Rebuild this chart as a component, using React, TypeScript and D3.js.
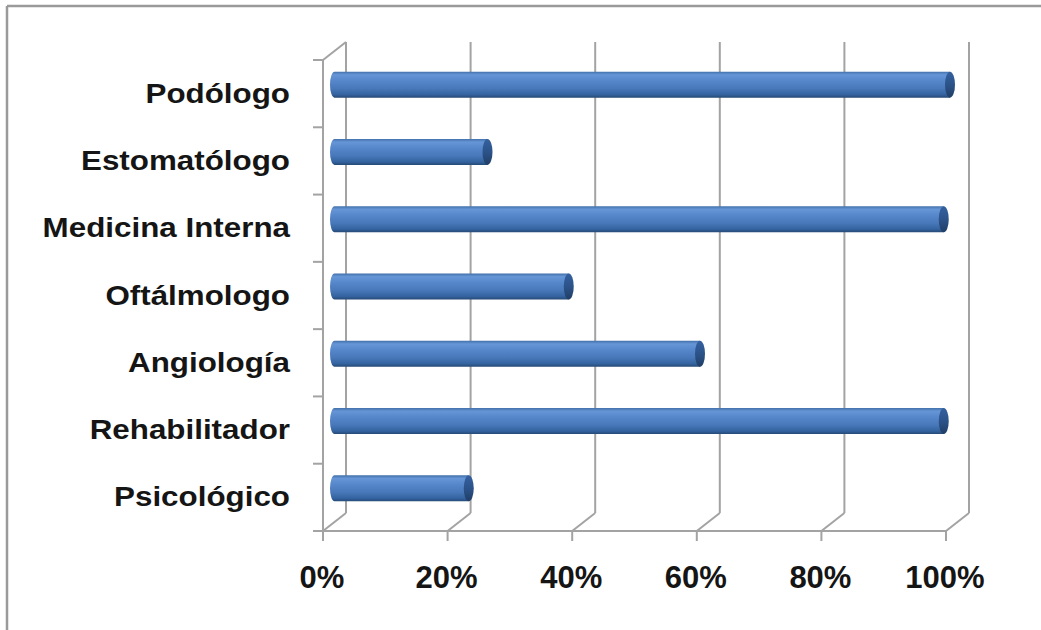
import React from "react";
import * as d3 from "d3";

const categories = [
  "Podólogo",
  "Estomatólogo",
  "Medicina Interna",
  "Oftálmologo",
  "Angiología",
  "Rehabilitador",
  "Psicológico",
];
const values = [100, 26, 99, 39, 60, 99, 23];
const tickValues = [0, 20, 40, 60, 80, 100];
const tickLabels = ["0%", "20%", "40%", "60%", "80%", "100%"];

const W = 1041;
const H = 630;
const depth = { dx: 23, dy: -18 };
const gridColor = "#a3a3a3";

export default function App() {
  const xFront = d3.scaleLinear().domain([0, 100]).range([323, 946]);
  const yFront = d3.scaleBand().domain(categories).range([60, 531]);
  const xBar = d3.scaleLinear().domain([0, 100]).range([325, 950]);
  const bw = yFront.bandwidth();
  const barH = 26;
  const rx = 4.5;
  const ry = barH / 2;
  const y0 = yFront.range()[0];
  const y1 = yFront.range()[1];
  const bounds = [y0, ...categories.map((c) => (yFront(c) as number) + bw)];
  const barStart = xFront(0) + depth.dx / 2;

  return (
    <svg
      width={W}
      height={H}
      style={{ position: "absolute", left: 0, top: 0, background: "#fff" }}
    >
      <defs>
        <linearGradient id="barGrad" x1="0" y1="0" x2="0" y2="1">
          <stop offset="0" stopColor="#4270ab" />
          <stop offset="0.12" stopColor="#6696d6" />
          <stop offset="0.35" stopColor="#5687cb" />
          <stop offset="0.65" stopColor="#4878b9" />
          <stop offset="0.88" stopColor="#3463a0" />
          <stop offset="1" stopColor="#264a75" />
        </linearGradient>
        <linearGradient id="capGrad" x1="0" y1="0" x2="0" y2="1">
          <stop offset="0" stopColor="#3561a0" />
          <stop offset="0.5" stopColor="#2c5389" />
          <stop offset="1" stopColor="#203e66" />
        </linearGradient>
      </defs>
      <rect x={0} y={0} width={W} height={H} fill="#fff" />
      {/* outer border */}
      <line x1={7} y1={6} x2={W} y2={6} stroke="#9a9a9a" strokeWidth={2.5} />
      <line x1={7} y1={6} x2={7} y2={H} stroke="#9a9a9a" strokeWidth={2.5} />

      {/* back wall gridlines + floor diagonals + ticks */}
      {tickValues.map((v) => {
        const xf = xFront(v);
        const xb = xf + depth.dx;
        return (
          <g key={"g" + v} stroke={gridColor} strokeWidth={2} fill="none">
            {v > 0 && <line x1={xb} y1={y0 + depth.dy} x2={xb} y2={y1 + depth.dy} />}
            <line x1={xf} y1={y1} x2={xb} y2={y1 + depth.dy} />
            <line x1={xf} y1={y1} x2={xf} y2={y1 + 10} />
          </g>
        );
      })}
      {/* left wall */}
      <g stroke={gridColor} strokeWidth={2} fill="none">
        <line x1={xFront(0)} y1={y0} x2={xFront(0)} y2={y1} />
        <line x1={xFront(0) + depth.dx} y1={y0 + depth.dy} x2={xFront(0) + depth.dx} y2={y1 + depth.dy} />
        <line x1={xFront(0)} y1={y0} x2={xFront(0) + depth.dx} y2={y0 + depth.dy} />
        <line x1={xFront(0)} y1={y1} x2={xFront(100)} y2={y1} />
        {bounds.map((b, i) => (
          <line key={"t" + i} x1={xFront(0) - 10} y1={b} x2={xFront(0)} y2={b} />
        ))}
      </g>

      {/* bars */}
      {categories.map((c, i) => {
        const cy = (yFront(c) as number) + bw / 2 + depth.dy / 2;
        const top = cy - ry;
        const bot = cy + ry;
        const xl = barStart;
        const xr = xBar(values[i]);
        const d = `M${xl},${top} L${xr},${top} L${xr},${bot} L${xl},${bot} A${rx},${ry} 0 0 1 ${xl},${top} Z`;
        return (
          <g key={c}>
            <path d={d} fill="url(#barGrad)" />
            <ellipse cx={xr} cy={cy} rx={rx + 0.5} ry={ry} fill="url(#capGrad)" />
          </g>
        );
      })}

      {/* category labels */}
      {categories.map((c) => {
        const cy = (yFront(c) as number) + bw / 2;
        return (
          <text
            key={"l" + c}
            transform={`translate(290,${cy + 9}) scale(1.12,1)`}
            textAnchor="end"
            fontFamily="'Liberation Sans', Arial, sans-serif"
            fontWeight="bold"
            fontSize={28}
            fill="#151515"
          >
            {c}
          </text>
        );
      })}

      {/* x tick labels */}
      {tickValues.map((v, i) => (
        <text
          key={"x" + v}
          x={xFront(v) - 1}
          y={588}
          textAnchor="middle"
          fontFamily="'Liberation Sans', Arial, sans-serif"
          fontWeight="bold"
          fontSize={31}
          fill="#151515"
        >
          {tickLabels[i]}
        </text>
      ))}
    </svg>
  );
}
